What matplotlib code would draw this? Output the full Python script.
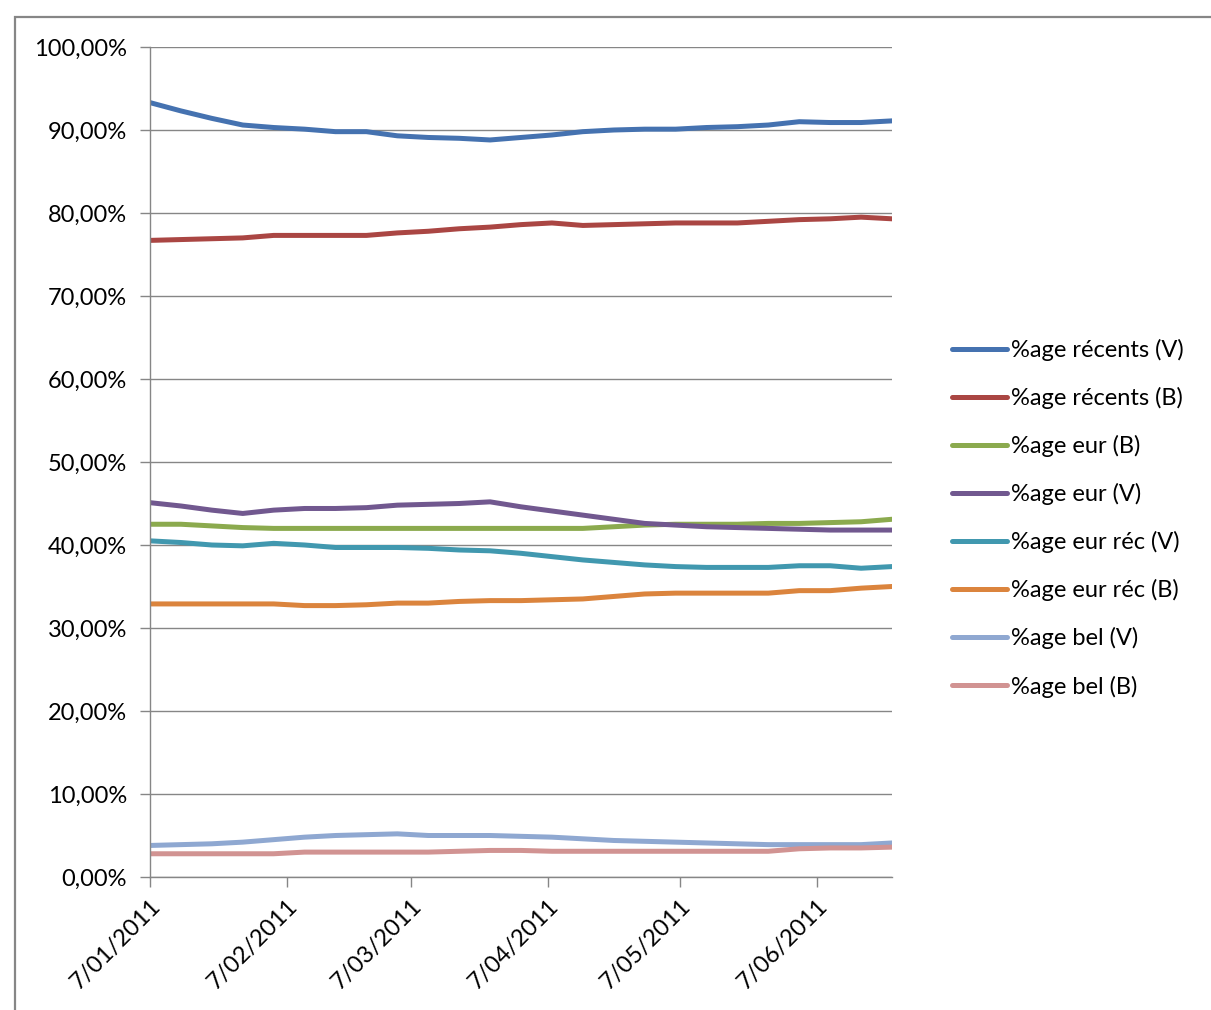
import datetime as dt
import matplotlib
matplotlib.use('Agg')
import matplotlib.pyplot as plt
from matplotlib.patches import Rectangle

plt.rcParams['font.family'] = ['Lato', 'DejaVu Sans']

# weekly measurements, Friday 7 Jan 2011 to Friday 24 Jun 2011
start = dt.date(2011, 1, 7)
dates = [start + dt.timedelta(weeks=i) for i in range(25)]

recents_v = [93.3, 92.3, 91.4, 90.6, 90.3, 90.1, 89.8, 89.8, 89.3, 89.1, 89.0, 88.8, 89.1,
             89.4, 89.8, 90.0, 90.1, 90.1, 90.3, 90.4, 90.6, 91.0, 90.9, 90.9, 91.1]
recents_b = [76.7, 76.8, 76.9, 77.0, 77.3, 77.3, 77.3, 77.3, 77.6, 77.8, 78.1, 78.3, 78.6,
             78.8, 78.5, 78.6, 78.7, 78.8, 78.8, 78.8, 79.0, 79.2, 79.3, 79.5, 79.3]
eur_b = [42.5, 42.5, 42.3, 42.1, 42.0, 42.0, 42.0, 42.0, 42.0, 42.0, 42.0, 42.0, 42.0,
         42.0, 42.0, 42.2, 42.4, 42.5, 42.5, 42.5, 42.6, 42.6, 42.7, 42.8, 43.1]
eur_v = [45.1, 44.7, 44.2, 43.8, 44.2, 44.4, 44.4, 44.5, 44.8, 44.9, 45.0, 45.2, 44.6,
         44.1, 43.6, 43.1, 42.6, 42.4, 42.2, 42.1, 42.0, 41.9, 41.8, 41.8, 41.8]
eur_rec_v = [40.5, 40.3, 40.0, 39.9, 40.2, 40.0, 39.7, 39.7, 39.7, 39.6, 39.4, 39.3, 39.0,
             38.6, 38.2, 37.9, 37.6, 37.4, 37.3, 37.3, 37.3, 37.5, 37.5, 37.2, 37.4]
eur_rec_b = [32.9, 32.9, 32.9, 32.9, 32.9, 32.7, 32.7, 32.8, 33.0, 33.0, 33.2, 33.3, 33.3,
             33.4, 33.5, 33.8, 34.1, 34.2, 34.2, 34.2, 34.2, 34.5, 34.5, 34.8, 35.0]
bel_v = [3.8, 3.9, 4.0, 4.2, 4.5, 4.8, 5.0, 5.1, 5.2, 5.0, 5.0, 5.0, 4.9,
         4.8, 4.6, 4.4, 4.3, 4.2, 4.1, 4.0, 3.9, 3.9, 3.9, 3.9, 4.1]
bel_b = [2.8, 2.8, 2.8, 2.8, 2.8, 3.0, 3.0, 3.0, 3.0, 3.0, 3.1, 3.2, 3.2,
         3.1, 3.1, 3.1, 3.1, 3.1, 3.1, 3.1, 3.1, 3.4, 3.5, 3.5, 3.6]

series = [
    ('%age récents (V)', recents_v, '#4572B0'),
    ('%age récents (B)', recents_b, '#AA4643'),
    ('%age eur (B)', eur_b, '#8BAA4E'),
    ('%age eur (V)', eur_v, '#71588F'),
    ('%age eur réc (V)', eur_rec_v, '#4198AF'),
    ('%age eur réc (B)', eur_rec_b, '#DB843D'),
    ('%age bel (V)', bel_v, '#8FA8D1'),
    ('%age bel (B)', bel_b, '#D19392'),
]

month_ticks = [dt.date(2011, m, 7) for m in range(1, 7)]
month_labels = ['7/01/2011', '7/02/2011', '7/03/2011', '7/04/2011', '7/05/2011', '7/06/2011']
pct_ticks = list(range(0, 101, 10))
pct_labels = ['%d,00%%' % v for v in pct_ticks]

fig = plt.figure(figsize=(12.11, 10.10), dpi=100)
ax = fig.add_axes([150/1211, 1-877/1010, (892-150)/1211, (877-47)/1010])

# chart area border
fig.patches.append(Rectangle((15/1211, -0.1), 1.2, 1-17/1010+0.1, transform=fig.transFigure,
                             fill=False, edgecolor='#868686', linewidth=1.6))

for name, vals, col in series:
    ax.plot(dates, vals, color=col, lw=3.6, label=name, solid_capstyle='round')

ax.set_xlim(dates[0], dates[-1])
ax.set_ylim(0, 100)
ax.set_yticks(pct_ticks)
ax.set_yticklabels(pct_labels)
ax.set_xticks(month_ticks)
ax.set_xticklabels(month_labels, rotation=45, ha='right', rotation_mode='anchor')

ax.grid(axis='y', color='#868686', lw=1.0)
ax.set_axisbelow(True)
for s in ['top', 'right']:
    ax.spines[s].set_visible(False)
for s in ['left', 'bottom']:
    ax.spines[s].set_color('#868686')
    ax.spines[s].set_linewidth(1.0)
ax.tick_params(axis='both', color='#868686', length=7, width=1.0, labelsize=17)
ax.tick_params(axis='y', pad=9.5)
ax.tick_params(axis='x', pad=6)

ax.legend(loc='upper left', bbox_to_anchor=(952/1211, 1-339/1010), bbox_transform=fig.transFigure,
          frameon=False, fontsize=17, handlelength=2.35, handletextpad=0.15,
          labelspacing=1.1, borderpad=0, borderaxespad=0)

fig.savefig('out.png', dpi=100)
